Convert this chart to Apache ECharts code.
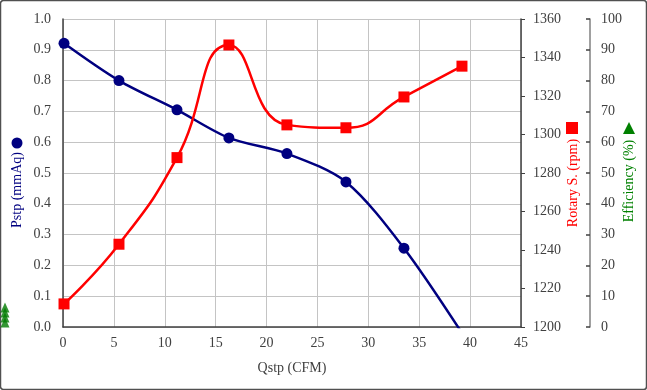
<!DOCTYPE html>
<html><head><meta charset="utf-8">
<script src="https://cdn.jsdelivr.net/npm/echarts@6/dist/echarts.min.js"></script>
<style>html,body{margin:0;padding:0;background:#fff}#c{width:647px;height:390px}</style>
</head><body><div id="c"></div>
<script>
// Data
const qPstp   = [0.1, 5.5, 11.2, 16.3, 22.0, 27.8, 33.5, 39.7];
const pstp    = [0.921, 0.800, 0.705, 0.614, 0.563, 0.471, 0.256, -0.045];
const qRotary = [0.1, 5.5, 11.2, 16.3, 22.0, 27.8, 33.5, 39.2];
const rotary  = [1212, 1243, 1288, 1346.5, 1305, 1303.5, 1319.5, 1335.5];
const qEff = [-5.7, -5.7, -5.7, -5.7];
const efficiency = [1.5, 3.1, 4.7, 6.3];
const xTitle = 'Qstp (CFM)';
const yTitles = ['Pstp (mmAq)', 'Rotary S. (rpm)', 'Efficiency (%)'];

const FONT = 'Liberation Serif';
const txt = '#404040';

const chart = echarts.init(document.getElementById('c'), null, {renderer: 'canvas'});
const pstpData = qPstp.map((q, i) => {
  const d = {value: [q, pstp[i]]};
  if (pstp[i] < 0) d.symbolSize = 0;
  return d;
});
chart.setOption({
  animation: false,
  grid: {left: 63, right: 126, top: 19, bottom: 63},
  xAxis: {
    type: 'value', min: 0, max: 45, interval: 5,
    axisLine: {show: true, onZero: false, lineStyle: {color: '#404040', width: 1.5}},
    axisTick: {show: false},
    axisLabel: {color: txt, fontFamily: FONT, fontSize: 14, margin: 9},
    splitLine: {show: true, lineStyle: {color: '#c4c4c4', width: 1}}
  },
  yAxis: [{
    type: 'value', min: 0, max: 1, interval: 0.1, position: 'left',
    axisLine: {show: true, onZero: false, lineStyle: {color: '#404040', width: 1.5}},
    axisTick: {show: false},
    axisLabel: {color: txt, fontFamily: FONT, fontSize: 14, margin: 12, formatter: v => v.toFixed(1)},
    splitLine: {show: true, lineStyle: {color: '#c4c4c4', width: 1}}
  }, {
    type: 'value', min: 1200, max: 1360, interval: 20, position: 'right',
    axisLine: {show: true, onZero: false, lineStyle: {color: '#404040', width: 1.5}},
    axisTick: {show: true, length: 4, lineStyle: {color: '#404040'}},
    axisLabel: {color: txt, fontFamily: FONT, fontSize: 14, margin: 12, formatter: v => String(v)},
    splitLine: {show: false}
  }, {
    type: 'value', min: 0, max: 100, interval: 10, position: 'right', offset: 69,
    axisLine: {show: true, onZero: false, lineStyle: {color: '#808080', width: 1.5}},
    axisTick: {show: true, inside: true, length: 4, lineStyle: {color: '#404040', width: 1.5}},
    axisLabel: {color: txt, fontFamily: FONT, fontSize: 14, margin: 11},
    splitLine: {show: false}
  }],
  series: [{
    type: 'line', yAxisIndex: 0, data: pstpData, smooth: 0.3, clip: true,
    symbol: 'circle', symbolSize: 11,
    lineStyle: {color: '#000080', width: 2.5}, itemStyle: {color: '#000080'}
  }, {
    type: 'line', yAxisIndex: 1, data: qRotary.map((q, i) => [q, rotary[i]]),
    smooth: 0.5, clip: false,
    symbol: 'rect', symbolSize: 11,
    lineStyle: {color: '#ff0000', width: 2.5}, itemStyle: {color: '#ff0000'}, z: 3
  }, {
    type: 'scatter', yAxisIndex: 2, data: qEff.map((q, i) => [q, efficiency[i]]), clip: false,
    symbol: 'triangle', symbolSize: [9, 10], itemStyle: {color: '#007a00'}
  }],
  graphic: [
    {type: 'rect', shape: {x: 0.5, y: 0.5, width: 646, height: 389, r: 3}, style: {fill: 'none', stroke: '#505050', lineWidth: 1.5}, silent: true},
    {type: 'text', x: 292, y: 368, style: {text: xTitle, fill: txt, font: '14px "Liberation Serif"', align: 'center', verticalAlign: 'middle'}},
    {type: 'text', x: 17, y: 190, rotation: Math.PI / 2, style: {text: yTitles[0], fill: '#000080', font: '14px "Liberation Serif"', align: 'center', verticalAlign: 'middle'}},
    {type: 'circle', shape: {cx: 17, cy: 143, r: 5.5}, style: {fill: '#000080'}},
    {type: 'text', x: 573, y: 183, rotation: Math.PI / 2, style: {text: yTitles[1], fill: '#ff0000', font: '14px "Liberation Serif"', align: 'center', verticalAlign: 'middle'}},
    {type: 'rect', shape: {x: 566, y: 122, width: 12, height: 12}, style: {fill: '#ff0000'}},
    {type: 'text', x: 629, y: 181, rotation: Math.PI / 2, style: {text: yTitles[2], fill: '#008000', font: '14px "Liberation Serif"', align: 'center', verticalAlign: 'middle'}},
    {type: 'polygon', shape: {points: [[629, 122], [635, 134], [623, 134]]}, style: {fill: '#008000'}}
  ]
});
</script></body></html>
